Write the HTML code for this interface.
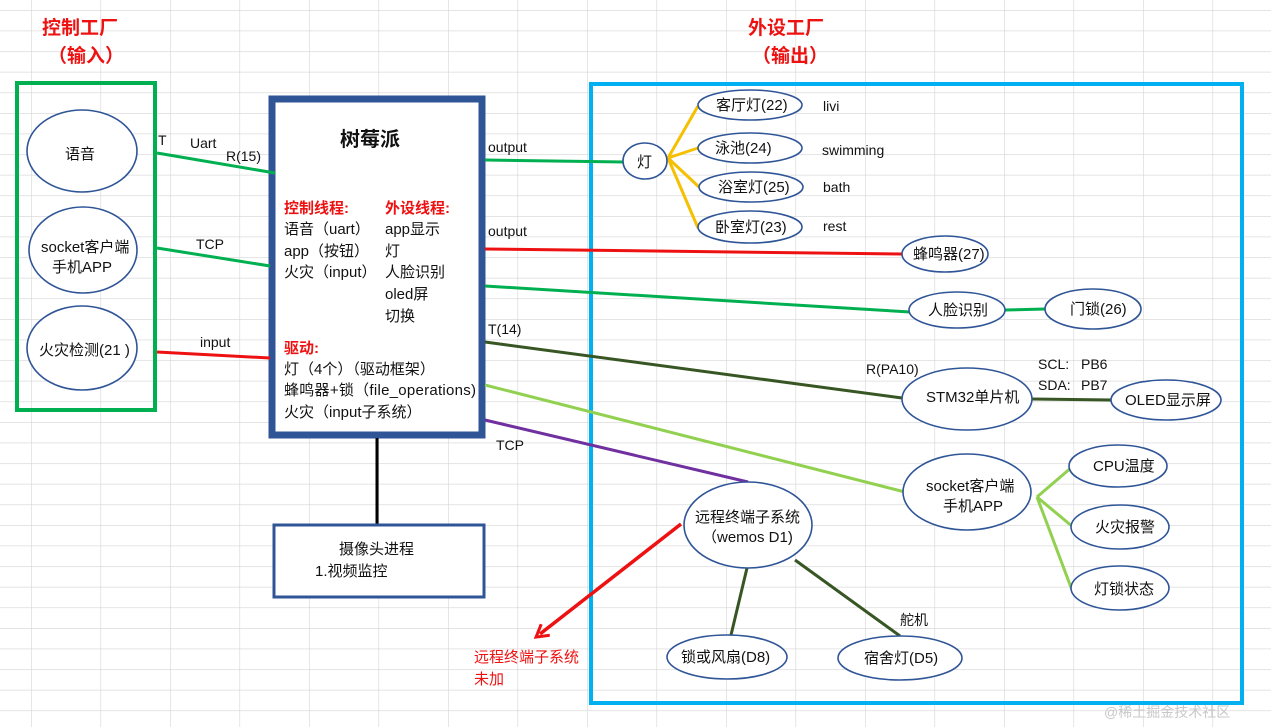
<!DOCTYPE html>
<html><head><meta charset="utf-8"><style>
html,body{margin:0;padding:0;background:#fff}
svg{display:block}
text{font-family:"Liberation Sans","Noto Sans CJK SC",sans-serif;font-size:14px;fill:#111}
.r{fill:#ee1111}
.b{font-weight:bold}
.k{font-size:15px}
</style></head><body>
<svg width="1271" height="727" viewBox="0 0 1271 727" xmlns="http://www.w3.org/2000/svg">
<defs>
<pattern id="g" x="31" y="10" width="69.5" height="20.6" patternUnits="userSpaceOnUse">
<path d="M0 0V20.6M0 0H69.5" stroke="#d4d4d4" stroke-width="1.2" fill="none"/>
</pattern>
<marker id="ah" markerWidth="16" markerHeight="16" refX="8" refY="8" orient="auto" markerUnits="userSpaceOnUse" viewBox="0 0 16 16">
<path d="M1 1L13 8L1 15" fill="none" stroke="#ee1111" stroke-width="3"/>
</marker>
</defs>
<rect width="1271" height="727" fill="url(#g)"/>

<text x="42" y="34" class="r b" style="font-size:19px">控制工厂</text>
<text x="48" y="62" class="r b" style="font-size:19px">（输入）</text>
<text x="748" y="34" class="r b" style="font-size:19px">外设工厂</text>
<text x="752" y="62" class="r b" style="font-size:19px">（输出）</text>

<rect x="17" y="83" width="138" height="327" fill="none" stroke="#00B050" stroke-width="4"/>
<rect x="591" y="84" width="651" height="619" fill="none" stroke="#00B0F0" stroke-width="4"/>
<rect x="272" y="99" width="210" height="336" fill="#fff" stroke="#2F5597" stroke-width="7"/>
<line x1="377" y1="438" x2="377" y2="524" stroke="#000" stroke-width="3"/>
<rect x="274" y="525" width="210" height="72" fill="#fff" stroke="#2F5597" stroke-width="3"/>

<g fill="#fff" stroke="#2F5597" stroke-width="1.6">
<ellipse cx="82" cy="151" rx="55" ry="41"/>
<ellipse cx="83" cy="250" rx="54" ry="43"/>
<ellipse cx="82" cy="348" rx="55" ry="42"/>
</g>

<g stroke-width="3" fill="none">
<line x1="157" y1="153" x2="275" y2="173" stroke="#00B050"/>
<line x1="157" y1="248" x2="270" y2="266" stroke="#00B050"/>
<line x1="157" y1="352" x2="270" y2="358" stroke="#ee1111"/>
<line x1="485" y1="160" x2="624" y2="162" stroke="#00B050"/>
<line x1="485" y1="249" x2="902" y2="254" stroke="#ee1111"/>
<line x1="485" y1="286" x2="910" y2="312" stroke="#00B050"/>
<line x1="1005" y1="310" x2="1045" y2="309" stroke="#00B050"/>
<line x1="485" y1="342" x2="902" y2="398" stroke="#375623"/>
<line x1="1032" y1="399" x2="1112" y2="400" stroke="#375623"/>
<line x1="485" y1="385" x2="905" y2="492" stroke="#92D050"/>
<line x1="1037" y1="497" x2="1072" y2="467" stroke="#92D050"/>
<line x1="1037" y1="497" x2="1073" y2="527" stroke="#92D050"/>
<line x1="1037" y1="497" x2="1072" y2="590" stroke="#92D050"/>
<line x1="485" y1="420" x2="748" y2="482" stroke="#7030A0"/>
<line x1="747" y1="568" x2="731" y2="635" stroke="#375623"/>
<line x1="795" y1="560" x2="900" y2="636" stroke="#375623"/>
<line x1="681" y1="524" x2="540" y2="634" stroke="#ee1111" stroke-width="3.5" marker-end="url(#ah)"/>
<g stroke="#F5C000">
<line x1="668" y1="158" x2="698" y2="106"/>
<line x1="668" y1="158" x2="698" y2="148"/>
<line x1="668" y1="158" x2="699" y2="187"/>
<line x1="668" y1="158" x2="698" y2="228"/>
</g>
</g>

<g fill="#fff" stroke="#2F5597" stroke-width="1.6">
<ellipse cx="645" cy="161" rx="22" ry="18"/>
<ellipse cx="750" cy="105" rx="52" ry="15"/>
<ellipse cx="750" cy="148" rx="52" ry="15"/>
<ellipse cx="751" cy="187" rx="52" ry="15"/>
<ellipse cx="750" cy="227" rx="52" ry="16"/>
<ellipse cx="945" cy="254" rx="43" ry="18"/>
<ellipse cx="957" cy="310" rx="48" ry="18"/>
<ellipse cx="1093" cy="309" rx="48" ry="20"/>
<ellipse cx="967" cy="399" rx="65" ry="31"/>
<ellipse cx="1166" cy="400" rx="55" ry="20"/>
<ellipse cx="967" cy="492" rx="64" ry="38"/>
<ellipse cx="1118" cy="466" rx="49" ry="21"/>
<ellipse cx="1120" cy="527" rx="49" ry="22"/>
<ellipse cx="1120" cy="588" rx="49" ry="22"/>
<ellipse cx="748" cy="525" rx="64" ry="43"/>
<ellipse cx="727" cy="657" rx="60" ry="22"/>
<ellipse cx="900" cy="658" rx="62" ry="22"/>
</g>

<g class="k">
<text x="65" y="159" class="k">语音</text>
<text x="41" y="252" class="k">socket客户端</text>
<text x="52" y="272" class="k">手机APP</text>
<text x="39" y="355" class="k">火灾检测(21 )</text>
<text x="637" y="167" class="k">灯</text>
<text x="716" y="110" class="k">客厅灯(22)</text>
<text x="715" y="153" class="k">泳池(24)</text>
<text x="718" y="192" class="k">浴室灯(25)</text>
<text x="715" y="232" class="k">卧室灯(23)</text>
<text x="913" y="259" class="k">蜂鸣器(27)</text>
<text x="928" y="315" class="k">人脸识别</text>
<text x="1070" y="314" class="k">门锁(26)</text>
<text x="926" y="402" class="k">STM32单片机</text>
<text x="1125" y="405" class="k">OLED显示屏</text>
<text x="926" y="491" class="k">socket客户端</text>
<text x="943" y="511" class="k">手机APP</text>
<text x="1093" y="471" class="k">CPU温度</text>
<text x="1095" y="532" class="k">火灾报警</text>
<text x="1094" y="594" class="k">灯锁状态</text>
<text x="695" y="522" class="k">远程终端子系统</text>
<text x="702" y="542" class="k">（wemos D1)</text>
<text x="681" y="662" class="k">锁或风扇(D8)</text>
<text x="864" y="663" class="k">宿舍灯(D5)</text>
</g>
<text x="823" y="111">livi</text>
<text x="822" y="155">swimming</text>
<text x="823" y="192">bath</text>
<text x="823" y="231">rest</text>
<text x="1038" y="369">SCL:</text><text x="1081" y="369">PB6</text>
<text x="1038" y="390">SDA:</text><text x="1081" y="390">PB7</text>
<text x="866" y="374">R(PA10)</text>
<text x="900" y="625">舵机</text>
<text x="474" y="662" class="r k">远程终端子系统</text>
<text x="474" y="684" class="r k">未加</text>

<text x="158" y="145">T</text>
<text x="190" y="148">Uart</text>
<text x="226" y="161">R(15)</text>
<text x="196" y="249">TCP</text>
<text x="200" y="347">input</text>
<text x="488" y="152">output</text>
<text x="488" y="236">output</text>
<text x="488" y="334">T(14)</text>
<text x="496" y="450">TCP</text>

<text x="340" y="146" class="b" style="font-size:20px">树莓派</text>
<text x="284" y="213" class="r b k">控制线程:</text>
<text x="385" y="213" class="r b k">外设线程:</text>
<text x="284" y="234" class="k">语音（uart）</text>
<text x="284" y="256" class="k">app（按钮）</text>
<text x="284" y="277" class="k">火灾（input）</text>
<text x="385" y="234" class="k">app显示</text>
<text x="385" y="256" class="k">灯</text>
<text x="385" y="277" class="k">人脸识别</text>
<text x="385" y="299" class="k">oled屏</text>
<text x="385" y="321" class="k">切换</text>
<text x="284" y="353" class="r b k">驱动:</text>
<text x="284" y="374" class="k">灯（4个）（驱动框架）</text>
<text x="284" y="395" class="k" textLength="192">蜂鸣器+锁（file_operations)</text>
<text x="284" y="417" class="k">火灾（input子系统）</text>

<text x="339" y="554" class="k">摄像头进程</text>
<text x="315" y="576" class="k">1.视频监控</text>

<text x="1104" y="717" style="fill:#c8c8c8;font-size:14px">@稀土掘金技术社区</text>
</svg>
</body></html>
